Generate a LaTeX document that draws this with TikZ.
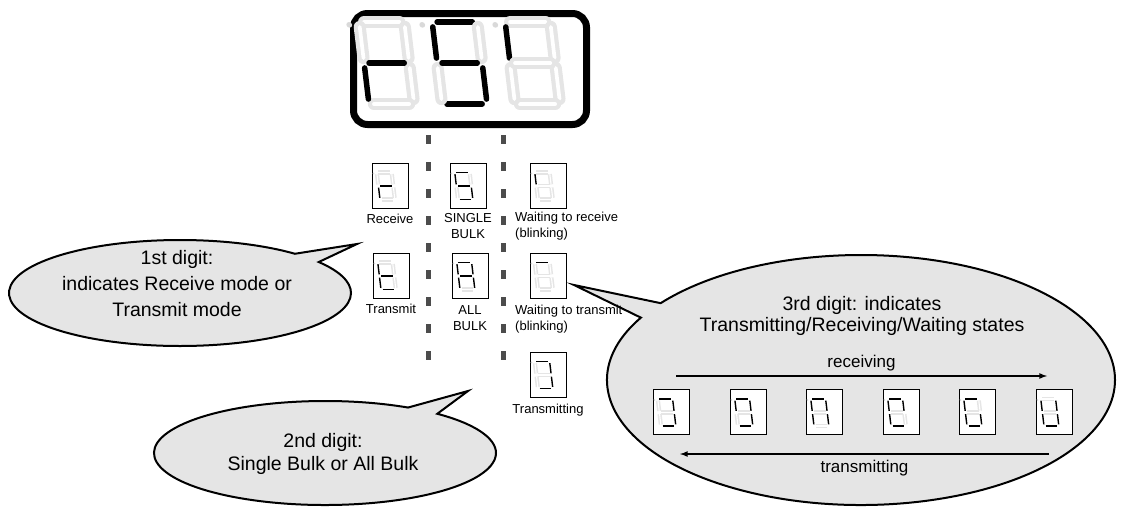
\documentclass[tikz,border=0pt]{standalone}
\usepackage{fontspec}
\setmainfont{Liberation Sans}
\usetikzlibrary{positioning,shapes.callouts}

% seven segment digit: x, y (bottom left), half height, lit segments, style
\makeatletter
\newcommand\segdigit[5]{%
  \begin{scope}[shift={(#1,#2)}, yscale=-1, xslant=0.12, scale=#3]
    \foreach \s/\xa/\ya/\xb/\yb in {a/0.12/2/0.98/2, b/1.1/1.88/1.1/1.12, c/1.1/0.88/1.1/0.12,
        d/0.12/0/0.98/0, e/0/0.12/0/0.88, f/0/1.12/0/1.88, g/0.12/1/0.98/1}{
      \edef\tmp{\noexpand\in@{,\s,}{,#4,}}\tmp
      \ifin@ \draw[#5 on] (\xa,\ya) -- (\xb,\yb);
      \else \draw[#5 off] (\xa,\ya) -- (\xb,\yb); \fi
    }
    \fill[gray!30] (-0.25,1.93) circle[radius=0.07];
  \end{scope}}
\makeatother

% small boxed digit: name, x, y, lit segments
\newcommand\smalldigit[4]{%
  \node[dbox] (#1) at (#2,#3) {};
  \segdigit{#2-10}{#3+14}{13.5}{#4}{small}}

\begin{document}
\begin{tikzpicture}[x=1pt, y=-1pt, >=latex]
  \tikzset{
    big on/.style={line width=5.5pt, line cap=round},
    big off/.style={draw=gray!20, line width=4.2pt, double=white, double distance=3.7pt, line cap=round},
    small on/.style={line width=1.4pt},
    small off/.style={draw=gray!20, line width=1.5pt, double=white, double distance=1.1pt},
    dbox/.style={draw, line width=0.8pt, fill=white, minimum width=36pt, minimum height=45pt, inner sep=0pt},
    lbl/.style={font=\fontsize{13}{15.5}\selectfont, inner sep=0pt, align=center},
    sep/.style={draw=gray!60!black, line width=5pt, dash pattern=on 9pt off 18pt},
    bubble/.style={ellipse callout, draw, line width=2pt, fill=gray!20, inner sep=0pt, callout pointer arc=12},
    btext/.style={font=\fontsize{19.5}{26}\selectfont, align=center, inner sep=0pt},
    flow/.style={->, line width=1.6pt}
  }
  \useasboundingbox (0,0) rectangle (1129,509);

  % callouts
  \coordinate (p1) at (357,244);
  \node[bubble, minimum width=342pt, minimum height=106pt, callout absolute pointer={(p1)}] (b1) at (180,293) {};
  \node[btext] at (177,284) {1st digit:\\indicates Receive mode or\\Transmit mode};

  \coordinate (p2) at (468,391);
  \node[bubble, minimum width=342pt, minimum height=104pt, callout absolute pointer={(p2)}] (b2) at (325,453) {};
  \node[btext, font=\fontsize{19.5}{23}\selectfont] at (323,454) {2nd digit:\\Single Bulk or All Bulk};

  \coordinate (p3) at (574,285);
  \node[bubble, minimum width=508pt, minimum height=250pt, callout absolute pointer={(p3)}, callout pointer arc=8] (b3) at (861,380) {};
  \node[btext, font=\fontsize{19.5}{21}\selectfont] at (862,316) {3rd digit: indicates\\Transmitting/Receiving/Waiting states};

  % main display
  \node[draw, line width=7pt, rounded corners=14pt, minimum width=233pt, minimum height=111pt] (disp) at (470,69) {};
  \segdigit{369}{104}{41}{e,g}{big}
  \segdigit{442}{104}{41}{a,f,g,c,d}{big}
  \segdigit{515}{104}{41}{f}{big}

  % separators
  \coordinate (s1t) at (428,135); \coordinate (s1b) at (428,362);
  \coordinate (s2t) at (503,135); \coordinate (s2b) at (503,362);
  \draw[sep] (s1t) -- (s1b);
  \draw[sep] (s2t) -- (s2b);

  % first digit
  \smalldigit{rcv}{390}{185.5}{e,g}
  \node[lbl, below=5pt of rcv] {Receive};
  \smalldigit{trn}{391}{275.5}{f,e,g,d}
  \node[lbl, below=5pt of trn] {Transmit};

  % second digit
  \smalldigit{sgl}{468}{185.5}{a,f,g,c,d}
  \node[lbl, below=5pt of sgl] {SINGLE\\BULK};
  \smalldigit{all}{470}{275.5}{a,b,c,e,f,g}
  \node[lbl, below=7pt of all] {ALL\\BULK};

  % third digit
  \smalldigit{wrc}{548}{185.5}{f}
  \node[lbl, align=left, anchor=north west] at (515,212) {Waiting to receive\\(blinking)};
  \smalldigit{wtr}{548}{275.5}{a}
  \node[lbl, align=left, anchor=north west] at (515,305) {Waiting to transmit\\(blinking)};
  \smalldigit{tms}{548}{374.5}{a,b,c,d}
  \node[lbl, below=6pt of tms] {Transmitting};

  % state sequence
  \smalldigit{q1}{671}{412}{a,b,c,d}
  \smalldigit{q2}{748}{412}{a,b,c,d,f}
  \smalldigit{q3}{824}{412}{a,b,c,e,f}
  \smalldigit{q4}{901}{412}{a,b,d,e,f}
  \smalldigit{q5}{977}{412}{a,c,d,e,f}
  \smalldigit{q6}{1054}{412}{b,c,d,e,f}

  \coordinate (rA) at (676,376); \coordinate (rB) at (1047,376);
  \draw[flow] (rA) -- node[above=4pt, lbl, font=\fontsize{17}{19}\selectfont] {receiving} (rB);
  \coordinate (tA) at (1049,454); \coordinate (tB) at (680,454);
  \draw[flow] (tA) -- node[below=5pt, lbl, font=\fontsize{17}{19}\selectfont] {transmitting} (tB);
\end{tikzpicture}
\end{document}
